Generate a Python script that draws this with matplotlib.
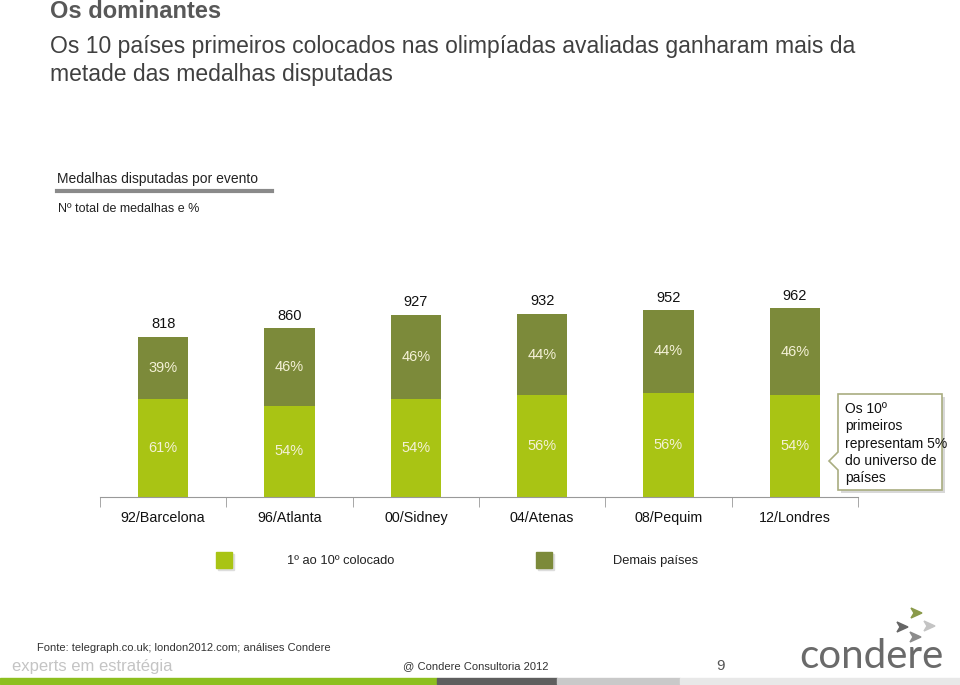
import matplotlib
matplotlib.use('Agg')
import matplotlib.pyplot as plt
from matplotlib.patches import Polygon, Rectangle

# data
events = ['92/Barcelona', '96/Atlanta', '00/Sidney', '04/Atenas', '08/Pequim', '12/Londres']
totals = [818, 860, 927, 932, 952, 962]
top10_pct = [61, 54, 54, 56, 56, 54]
others_pct = [39, 46, 46, 44, 44, 46]
series_names = ['1º ao 10º colocado', 'Demais países']

LIGHT = '#a9c414'
DARK = '#7c8a3a'
W, H = 960, 685


def px(x, y):
    return x / W, 1 - y / H


fig = plt.figure(figsize=(9.6, 6.85), dpi=100)
fig.patch.set_facecolor('white')
plt.rcParams['font.family'] = ['Liberation Sans', 'DejaVu Sans']

# headings
fig.text(*px(50, 12), 'Os dominantes', fontsize=17, fontweight='bold',
         color='#585858', va='center')
fig.text(*px(50, 46), 'Os 10 países primeiros colocados nas olimpíadas avaliadas ganharam mais da',
         fontsize=16.5, color='#404040', va='center')
fig.text(*px(50, 74), 'metade das medalhas disputadas', fontsize=16.5, color='#404040', va='center')
fig.text(*px(57, 179), 'Medalhas disputadas por evento', fontsize=10, color='#222222', va='center')
fig.add_artist(plt.Line2D([57 / W, 272 / W], [1 - 191 / H] * 2, color='#8a8a8a', lw=3))
fig.text(*px(58, 209), 'Nº total de medalhas e %', fontsize=9, color='#222222', va='center')

# chart
left, right, base, top = 100, 858, 497, 301
ax = fig.add_axes([left / W, 1 - base / H, (right - left) / W, (base - top) / H])
x = list(range(len(events)))
bottom_vals = [t * p / 100 for t, p in zip(totals, top10_pct)]
top_vals = [t - b for t, b in zip(totals, bottom_vals)]
ax.bar(x, bottom_vals, 0.4, color=LIGHT, label=series_names[0])
ax.bar(x, top_vals, 0.4, bottom=bottom_vals, color=DARK, label=series_names[1])

for i in x:
    ax.text(i, bottom_vals[i] / 2, f'{top10_pct[i]}%', ha='center', va='center',
            fontsize=10.5, color='#f4f1d6')
    ax.text(i, bottom_vals[i] + top_vals[i] / 2, f'{others_pct[i]}%', ha='center', va='center',
            fontsize=10.5, color='#f4f1d6')
    ax.text(i, totals[i] + 30, f'{totals[i]}', ha='center', va='bottom',
            fontsize=10.5, color='#111111')

ax.set_xlim(-0.5, 5.5)
ax.set_ylim(0, 1000)
for s in ['top', 'right', 'left']:
    ax.spines[s].set_visible(False)
ax.spines['bottom'].set_color('#999999')
ax.set_yticks([])
ax.set_xticks(x)
ax.set_xticklabels(events, fontsize=10.3, color='#111111')
ax.tick_params(axis='x', which='major', length=0, pad=10)
ax.set_xticks([i - 0.5 for i in range(len(events) + 1)], minor=True)
ax.tick_params(axis='x', which='minor', length=7, color='#999999')
ax.patch.set_alpha(0)

# legend
for xs, col, lx, name in [(216, LIGHT, 287, series_names[0]), (536, DARK, 613, series_names[1])]:
    fig.add_artist(Rectangle(px(xs + 2, 570), 16 / W, 16 / H, transform=fig.transFigure,
                             color='#dddddd'))
    fig.add_artist(Rectangle(px(xs, 568), 16 / W, 16 / H, transform=fig.transFigure, color=col))
    fig.text(*px(lx, 561), name, fontsize=9.3, color='#222222', va='center')

# callout
pts = [(838, 394), (942, 394), (942, 490), (838, 490), (838, 470), (829, 461), (838, 452)]
shadow = Polygon([px(a + 3, b + 3) for a, b in pts], closed=True, transform=fig.transFigure,
                 facecolor='#d8d8d8', edgecolor='none')
box = Polygon([px(a, b) for a, b in pts], closed=True, transform=fig.transFigure,
              facecolor='white', edgecolor='#a9ad80', lw=1.2)
fig.add_artist(shadow)
fig.add_artist(box)
for k, line in enumerate(['Os 10º', 'primeiros', 'representam 5%', 'do universo de', 'países']):
    fig.text(*px(845, 409 + k * 17.3), line, fontsize=10, color='#111111', va='center')

# footer
fig.text(*px(37, 648), 'Fonte: telegraph.co.uk; london2012.com; análises Condere',
         fontsize=8, color='#333333', va='center')
fig.text(*px(12, 666), 'experts em estratégia', fontsize=12, color='#c4c4c4', va='center')
fig.text(*px(403, 666), '@ Condere Consultoria 2012', fontsize=8, color='#333333', va='center')
fig.text(*px(716, 666), '9', fontsize=11, color='#555555', va='center')
fig.text(*px(799, 668), 'condere', fontsize=29, color='#6a6a6a', va='baseline',
         family=['Lato', 'DejaVu Sans'])

# logo arrows
for cx, cy, col in [(916, 613, '#8a9a4a'), (902, 627, '#666666'), (929, 626, '#c4c4c4'),
                    (915, 637, '#8c8c8c')]:
    tri = [px(cx - 5, cy - 5), px(cx + 6, cy), px(cx - 5, cy + 5), px(cx - 2, cy)]
    fig.add_artist(Polygon(tri, closed=True, transform=fig.transFigure, color=col))

# bottom strip
for x0, x1, col in [(0, 437, '#8dbf1f'), (437, 557, '#5e5e5e'), (557, 680, '#c9c9c9'),
                    (680, 960, '#e8e8e8')]:
    fig.add_artist(Rectangle(px(x0, 684), (x1 - x0) / W, 6 / H, transform=fig.transFigure,
                             color=col))

fig.savefig('out.png', dpi=100)
plt.close(fig)
